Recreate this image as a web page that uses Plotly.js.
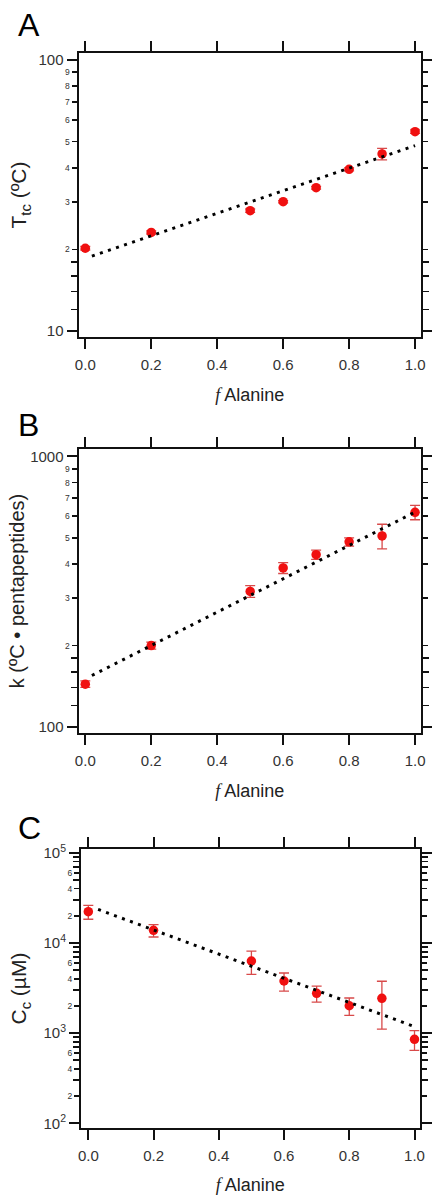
<!DOCTYPE html>
<html><head><meta charset="utf-8">
<script src="https://cdn.plot.ly/plotly-3.0.1.min.js"></script>
<style>html,body{margin:0;padding:0;background:#fff}</style>
</head><body>
<div id="chart" style="width:432px;height:1195px"></div>
<script>
// ---------- data ----------
const fAla = [0, 0.2, 0.5, 0.6, 0.7, 0.8, 0.9, 1.0];

const ttc = [20.2, 23.1, 27.8, 30.0, 33.8, 39.5, 45.0, 54.4];
const ttcErr = [0.3, 0.3, 0.4, 0.3, 0.4, 0.5, 2.2, 0.8];
const ttcFitX = [0.02, 1.0];
const ttcFitY = [18.9, 48.3];

const kVal = [144, 200, 317, 387, 433, 483, 508, 621];
const kErr = [4, 6, 16, 18, 17, 17, 53, 38];
const kFitX = [0.02, 1.0];
const kFitY = [155, 622];

const cc = [22170, 13770, 6300, 3780, 2760, 2010, 2430, 853];
const ccErr = [3870, 2150, 1820, 860, 550, 440, 1325, 210];
const ccFitX = [0.03, 1.0];
const ccFitY = [23530, 1180];

const xTickVals = [0, 0.2, 0.4, 0.6, 0.8, 1.0];
const xTickText = ['0.0', '0.2', '0.4', '0.6', '0.8', '1.0'];

const aMajorVals = [10, 100];
const aMajorText = ['10', '100'];
const aMidVals = [20, 30, 40, 50, 60, 70, 80, 90];
const aMidText = ['2', '3', '4', '5', '6', '7', '8', '9'];
const aMinorVals = [12, 14, 16, 18];

const bMajorVals = [100, 1000];
const bMajorText = ['100', '1000'];
const bMidVals = [200, 300, 400, 500, 600, 700, 800, 900];
const bMidText = ['2', '3', '4', '5', '6', '7', '8', '9'];
const bMinorVals = [120, 140, 160, 180];

const cMajorVals = [100, 1000, 10000, 100000];
const cMajorText = ['10<sup>2</sup>', '10<sup>3</sup>', '10<sup>4</sup>', '10<sup>5</sup>'];
const cMidVals = [200, 400, 600, 2000, 4000, 6000, 20000, 40000, 60000];
const cMidText = ['2', '4', '6', '2', '4', '6', '2', '4', '6'];
const cMinorVals = [300, 500, 700, 800, 900, 3000, 5000, 7000, 8000, 9000, 30000, 50000, 70000, 80000, 90000];

// ---------- style ----------
const FONT = 'Liberation Sans, Arial, Helvetica, sans-serif';
const INK = '#111';
const RED = '#f01010';
const ERRC = '#d84a4a';
const xTitle = '<span style="font-family:\'Liberation Serif\'"><i>f</i></span> Alanine';

function xAxis(domain, range, anchor) {
  return {
    domain: domain, range: range, anchor: anchor,
    tickmode: 'array', tickvals: xTickVals, ticktext: xTickText,
    ticks: 'outside', ticklen: 10, tickwidth: 2, tickcolor: INK,
    showline: true, linewidth: 2, linecolor: INK, mirror: 'ticks',
    showgrid: false, zeroline: false, ticklabelstandoff: 3,
    tickfont: {family: FONT, size: 15, color: '#333'},
    title: {text: xTitle, font: {family: FONT, size: 18, color: '#222'}, standoff: 16}
  };
}
function yMain(domain, range, anchor, vals, text, minorVals, title, tsize, standoff) {
  return {
    domain: domain, range: range, anchor: anchor, type: 'log',
    tickmode: 'array', tickvals: vals, ticktext: text,
    ticks: 'outside', ticklen: 10, tickwidth: 2, tickcolor: INK,
    showline: true, linewidth: 2, linecolor: INK, mirror: 'ticks',
    showgrid: false, zeroline: false,
    minor: {tickmode: 'array', tickvals: minorVals, ticks: 'outside', ticklen: 6, tickwidth: 1.8, tickcolor: INK, showgrid: false},
    tickfont: {family: FONT, size: 15, color: '#333'},
    title: {text: title, font: {family: FONT, size: tsize, color: '#222'}, standoff: standoff}
  };
}
function yMid(over, range, anchor, vals, text) {
  return {
    overlaying: over, range: range, anchor: anchor, type: 'log', side: 'left',
    tickmode: 'array', tickvals: vals, ticktext: text,
    ticks: 'outside', ticklen: 6, tickwidth: 1.8, tickcolor: INK,
    showline: false, mirror: 'ticks', showgrid: false, zeroline: false,
    tickfont: {family: FONT, size: 8.5, color: '#333'}
  };
}
function points(y, err, xa, ya) {
  return {
    x: fAla, y: y, xaxis: xa, yaxis: ya, type: 'scatter', mode: 'markers',
    marker: {color: RED, size: 9.5},
    error_y: {type: 'data', array: err, visible: true, color: ERRC, thickness: 1.3, width: 5},
    showlegend: false, hoverinfo: 'x+y'
  };
}
function fit(x, y, xa, ya) {
  return {
    x: x, y: y, xaxis: xa, yaxis: ya, type: 'scatter', mode: 'lines',
    line: {color: '#000', width: 3, dash: '3px,5.5px'},
    showlegend: false, hoverinfo: 'skip'
  };
}
function dummy(xa, ya) {
  return {x: [null], y: [null], xaxis: xa, yaxis: ya, type: 'scatter', mode: 'markers', showlegend: false, hoverinfo: 'skip'};
}

const H = 1195, W = 432;
const pdY = (top, bot) => [1 - bot / H, 1 - top / H];
const pdX = (l, r) => [l / W, r / W];

const rA = [0.9779, 2.0258], rB = [1.9779, 3.027], rC = [1.948, 5.041];

const data = [
  points(ttc, ttcErr, 'x', 'y'), fit(ttcFitX, ttcFitY, 'x', 'y'),
  points(kVal, kErr, 'x2', 'y2'), fit(kFitX, kFitY, 'x2', 'y2'),
  points(cc, ccErr, 'x3', 'y3'), fit(ccFitX, ccFitY, 'x3', 'y3'),
  dummy('x', 'y4'), dummy('x2', 'y5'), dummy('x3', 'y6')
];

const layout = {
  width: W, height: H, margin: {l: 0, r: 0, t: 0, b: 0},
  paper_bgcolor: '#fff', plot_bgcolor: '#fff',
  font: {family: FONT, color: '#222'},
  showlegend: false,
  xaxis: xAxis(pdX(78.5, 421), [-0.0206, 1.018], 'y'),
  yaxis: yMain(pdY(53, 337), rA, 'x', aMajorVals, aMajorText, aMinorVals, 'T<sub>tc</sub> (ºC)', 21, 6),
  yaxis4: yMid('y', rA, 'x', aMidVals, aMidText),
  xaxis2: xAxis(pdX(78.5, 421), [-0.0206, 1.018], 'y2'),
  yaxis2: yMain(pdY(449, 733), rB, 'x2', bMajorVals, bMajorText, bMinorVals, 'k (ºC • pentapeptides)', 20, 0),
  yaxis5: yMid('y2', rB, 'x2', bMidVals, bMidText),
  xaxis3: xAxis(pdX(81, 419.5), [-0.0224, 1.0153], 'y3'),
  yaxis3: yMain(pdY(849, 1128), rC, 'x3', cMajorVals, cMajorText, cMinorVals, 'C<sub>c</sub> (µM)', 21, 11),
  yaxis6: yMid('y3', rC, 'x3', cMidVals, cMidText),
  annotations: [
    {text: 'A', xref: 'paper', yref: 'paper', x: 16 / W, y: 1 - 25 / H, xanchor: 'left', yanchor: 'middle', showarrow: false, font: {family: FONT, size: 32, color: '#000'}},
    {text: 'B', xref: 'paper', yref: 'paper', x: 16 / W, y: 1 - 425 / H, xanchor: 'left', yanchor: 'middle', showarrow: false, font: {family: FONT, size: 32, color: '#000'}},
    {text: 'C', xref: 'paper', yref: 'paper', x: 16 / W, y: 1 - 828 / H, xanchor: 'left', yanchor: 'middle', showarrow: false, font: {family: FONT, size: 32, color: '#000'}}
  ]
};

Plotly.newPlot('chart', data, layout, {staticPlot: true, displayModeBar: false}).then(function (gd) {
  // drop empty placeholder text nodes Plotly leaves behind
  gd.querySelectorAll('text').forEach(function (t) {
    if (!t.textContent || !t.textContent.trim()) t.remove();
  });
});
</script>
</body></html>
